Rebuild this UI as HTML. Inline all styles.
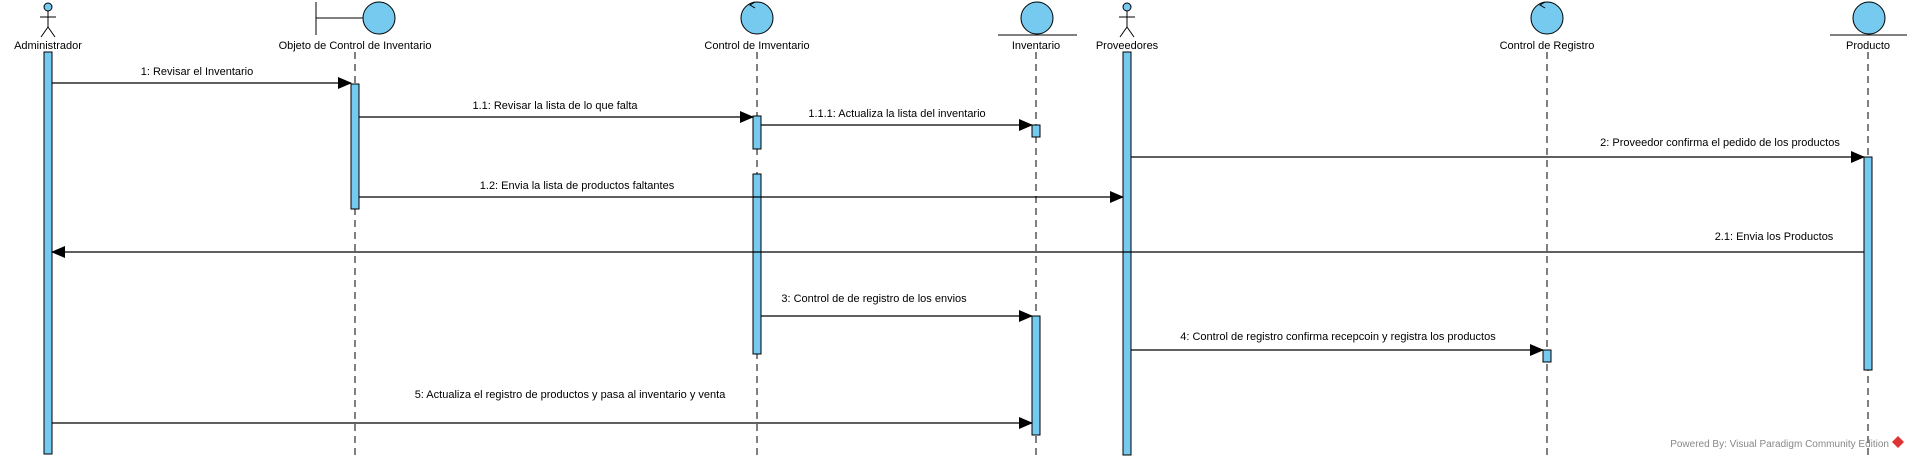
<!DOCTYPE html>
<html><head><meta charset="utf-8"><style>
html,body{margin:0;padding:0;background:#fff;}
svg{display:block;font-family:"Liberation Sans",sans-serif;font-size:11px;}
</style></head><body>
<svg width="1907" height="459" viewBox="0 0 1907 459" xmlns="http://www.w3.org/2000/svg">
<defs><marker id="a" markerWidth="14" markerHeight="12" refX="13" refY="6" orient="auto" markerUnits="userSpaceOnUse"><path d="M0,0 L14,6 L0,12 z" fill="#000"/></marker></defs>
<g stroke="#000" stroke-dasharray="7,5" stroke-width="1">
<line x1="355" y1="52" x2="355" y2="459"/>
<line x1="757" y1="52" x2="757" y2="459"/>
<line x1="1036" y1="52" x2="1036" y2="459"/>
<line x1="1547" y1="52" x2="1547" y2="459"/>
<line x1="1868" y1="52" x2="1868" y2="459"/>
</g>
<g fill="#76c9ef" stroke="#000" stroke-width="1">
<!-- admin actor -->
<circle cx="48" cy="7" r="4"/>
<circle cx="1127" cy="7" r="4"/>
<circle cx="379" cy="18" r="16"/>
<circle cx="757" cy="18" r="16"/>
<circle cx="1037" cy="18" r="16"/>
<circle cx="1547" cy="18" r="16"/>
<circle cx="1869" cy="18" r="16"/>
<rect x="44" y="52" width="8" height="402"/>
<rect x="1123" y="52" width="8" height="403"/>
<rect x="351" y="84" width="8" height="125"/>
<rect x="753" y="116" width="8" height="33"/>
<rect x="753" y="174" width="8" height="180"/>
<rect x="1032" y="125" width="8" height="12"/>
<rect x="1032" y="316" width="8" height="119"/>
<rect x="1864" y="157" width="8" height="213"/>
<rect x="1543" y="350" width="8" height="12"/>
</g>
<g stroke="#000" fill="none" stroke-width="1">
<path d="M48,11 V27 M40,17 H56 M48,27 L41,37 M48,27 L55,37"/>
<path d="M1127,11 V27 M1119,17 H1135 M1127,27 L1120,37 M1127,27 L1134,37"/>
<path d="M316,2 V35 M316,18 H363"/>
<path d="M998,35 H1077"/>
<path d="M1830,35 H1907"/>
<path d="M755,2 L750,5 L755,8"/>
<path d="M1545,2 L1540,5 L1545,8"/>
</g>
<g stroke="#000" stroke-width="1.3" marker-end="url(#a)">
<line x1="52" y1="83" x2="351" y2="83"/>
<line x1="359" y1="117" x2="753" y2="117"/>
<line x1="761" y1="125" x2="1032" y2="125"/>
<line x1="1131" y1="157" x2="1864" y2="157"/>
<line x1="359" y1="197" x2="1123" y2="197"/>
<line x1="1864" y1="252" x2="52" y2="252"/>
<line x1="761" y1="316" x2="1032" y2="316"/>
<line x1="1131" y1="350" x2="1543" y2="350"/>
<line x1="52" y1="423" x2="1032" y2="423"/>
</g>
<g fill="#000">
<text x="48" y="49" text-anchor="middle">Administrador</text>
<text x="355" y="49" text-anchor="middle">Objeto de Control de Inventario</text>
<text x="757" y="49" text-anchor="middle">Control de Imventario</text>
<text x="1036" y="49" text-anchor="middle">Inventario</text>
<text x="1127" y="49" text-anchor="middle">Proveedores</text>
<text x="1547" y="49" text-anchor="middle">Control de Registro</text>
<text x="1868" y="49" text-anchor="middle">Producto</text>
<text x="197" y="75" text-anchor="middle">1: Revisar el Inventario</text>
<text x="555" y="109" text-anchor="middle">1.1: Revisar la lista de lo que falta</text>
<text x="897" y="117" text-anchor="middle">1.1.1: Actualiza la lista del inventario</text>
<text x="1720" y="146" text-anchor="middle">2: Proveedor confirma el pedido de los productos</text>
<text x="577" y="189" text-anchor="middle">1.2: Envia la lista de productos faltantes</text>
<text x="1774" y="240" text-anchor="middle">2.1: Envia los Productos</text>
<text x="874" y="302" text-anchor="middle">3: Control de de registro de los envios</text>
<text x="1338" y="340" text-anchor="middle">4: Control de registro confirma recepcoin y registra los productos</text>
<text x="570" y="398" text-anchor="middle">5: Actualiza el registro de productos y pasa al inventario y venta</text>
<text x="1889" y="447" text-anchor="end" fill="#888" font-size="10">Powered By: Visual Paradigm Community Edition</text>
</g>
<path d="M1898,436 l6,6 -6,6 -6,-6z" fill="#d33"/>
</svg>
</body></html>
